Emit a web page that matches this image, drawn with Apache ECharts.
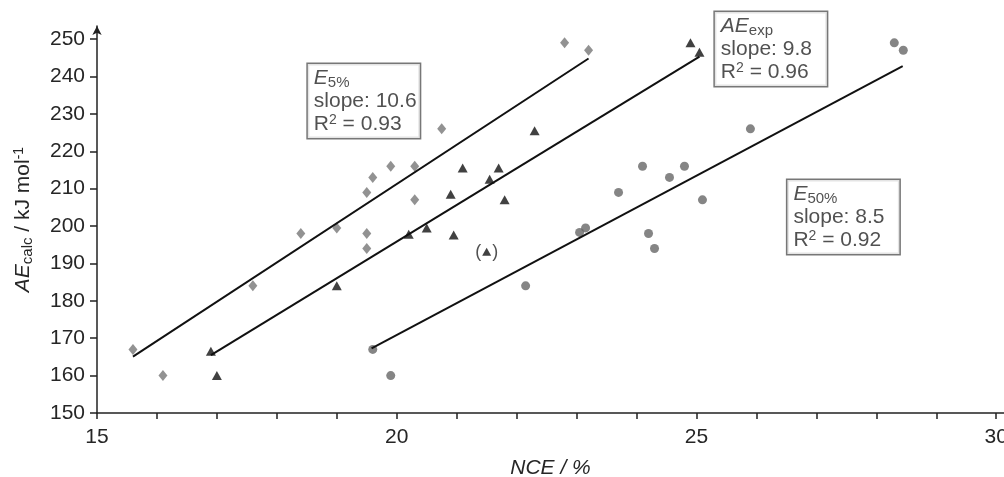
<!DOCTYPE html>
<html>
<head>
<meta charset="utf-8">
<script src="https://cdn.jsdelivr.net/npm/echarts@6/dist/echarts.min.js"></script>
<style>
  html, body { margin: 0; padding: 0; background: #fff; width: 100%; height: 100%; overflow: hidden; }
  #chart { width: 1004px; height: 477px; }
</style>
</head>
<body>
<div id="chart"></div>
<script>
// ---- data ----
// E5% (grey diamonds): [NCE %, AE_calc kJ/mol]
const e5Points = [
  [15.6, 167], [16.1, 160], [17.6, 184], [18.4, 198], [19.0, 199.5],
  [19.5, 198], [19.5, 194], [19.5, 209], [19.6, 213], [19.9, 216],
  [20.3, 216], [20.3, 207], [20.75, 226], [22.8, 249], [23.2, 247]
];
// AE_exp (black triangles)
const expPoints = [
  [16.9, 166.5], [17.0, 160], [19.0, 184], [20.2, 197.8], [20.5, 199.5],
  [20.95, 197.6], [20.9, 208.5], [21.1, 215.5], [21.55, 212.5], [21.7, 215.5],
  [21.8, 207], [22.3, 225.5], [24.9, 249], [25.05, 246.5]
];
// bracketed (excluded) AE_exp point
const expExcluded = [[21.5, 193.1]];
// E50% (grey circles)
const e50Points = [
  [19.6, 167], [19.9, 160], [22.15, 184], [23.05, 198.3], [23.15, 199.5],
  [23.7, 209], [24.1, 216], [24.2, 198], [24.3, 194], [24.55, 213],
  [24.8, 216], [25.1, 207], [25.9, 226], [28.3, 249], [28.45, 247]
];
// regression line end points
const e5Fit  = [[15.6, 165.1], [23.2, 244.8]];
const expFit = [[16.9, 165.5], [25.05, 245.3]];
const e50Fit = [[19.58, 167.3], [28.44, 242.8]];
// annotation boxes (top-left corner in data coordinates)
const annotations = [
  { pos: [18.5, 243.6], sym: '{i|E}{s|5%}', slope: '10.6', r2: '0.93' },
  { pos: [25.29, 257.5], sym: '{i|AE}{s|exp}', slope: '9.8', r2: '0.96' },
  { pos: [26.5, 212.6], sym: '{i|E}{s|50%}', slope: '8.5', r2: '0.92' }
];
// axes
const xTicks = [15,16,17,18,19,20,21,22,23,24,25,26,27,28,29,30];
const xLabels = [15, 20, 25, 30];
const yTicks = [150,160,170,180,190,200,210,220,230,240,250];

const FONT = 'Liberation Sans, Arial, sans-serif';
const FS = 21;
const TXT = '#262626';
const richText = {
  i: { fontStyle: 'italic', fontSize: FS, lineHeight: 23, fontFamily: FONT, color: TXT },
  n: { fontSize: FS, lineHeight: 23, fontFamily: FONT, color: TXT },
  s: { fontSize: 15, lineHeight: 10, verticalAlign: 'bottom', fontFamily: FONT, color: TXT },
  u: { fontSize: 14, lineHeight: 12, verticalAlign: 'top', fontFamily: FONT, color: TXT }
};

const chart = echarts.init(document.getElementById('chart'), null, { renderer: 'canvas' });

const option = {
  animation: false,
  backgroundColor: '#fff',
  grid: { left: 97, right: 0, top: 26, bottom: 64, containLabel: false, outerBoundsMode: 'none' },
  xAxis: {
    type: 'value',
    min: 15, max: 30.13,
    name: '{i|NCE / %}',
    nameLocation: 'middle',
    nameGap: 44,
    nameTextStyle: { rich: richText },
    axisLine: { show: true, onZero: false, lineStyle: { color: '#222', width: 1.5 } },
    axisTick: { show: true, customValues: xTicks, length: 6, inside: false, lineStyle: { color: '#222', width: 1.5 } },
    axisLabel: { customValues: xLabels, margin: 14, fontSize: FS, fontFamily: FONT, color: TXT },
    splitLine: { show: false }
  },
  yAxis: {
    type: 'value',
    min: 150, max: 253.5,
    name: '{i|AE}{s|calc}{n| / kJ mol}{u|-1}',
    nameLocation: 'middle',
    nameGap: 62,
    nameTextStyle: { rich: richText },
    axisLine: { show: true, onZero: false, symbol: ['none', 'arrow'], symbolSize: [7, 9], symbolOffset: [0, 0], lineStyle: { color: '#222', width: 1.5 } },
    axisTick: { show: true, customValues: yTicks, length: 7, inside: false, lineStyle: { color: '#222', width: 1.5 } },
    axisLabel: { customValues: yTicks, margin: 12, fontSize: FS, fontFamily: FONT, color: TXT },
    splitLine: { show: false }
  },
  series: [
    { type: 'line', data: e5Fit, showSymbol: false, symbol: 'none', lineStyle: { color: '#111', width: 2 }, z: 3 },
    { type: 'line', data: expFit, showSymbol: false, symbol: 'none', lineStyle: { color: '#111', width: 2 }, z: 3 },
    { type: 'line', data: e50Fit, showSymbol: false, symbol: 'none', lineStyle: { color: '#111', width: 2 }, z: 3 },
    { type: 'scatter', data: e5Points, symbol: 'diamond', symbolSize: [9, 11], itemStyle: { color: '#777' }, z: 2 },
    { type: 'scatter', data: expPoints, symbol: 'triangle', symbolSize: [10, 9], itemStyle: { color: '#111' }, z: 2 },
    { type: 'scatter', data: e50Points, symbol: 'circle', symbolSize: 9, itemStyle: { color: '#666' }, z: 2 },
    {
      type: 'scatter', data: expExcluded, symbol: 'triangle', symbolSize: [9, 8], itemStyle: { color: '#111' }, z: 2,
      label: {
        show: true, position: 'inside',
        formatter: '{p|(}{g|}{p|)}',
        rich: {
          p: { fontSize: 18, fontFamily: FONT, color: TXT },
          g: { width: 11 }
        }
      }
    },
    {
      type: 'scatter', clip: false, z: 5,
      data: annotations.map(a => ({ value: a.pos, a })),
      symbolSize: 0.1, itemStyle: { color: 'rgba(0,0,0,0)' },
      label: {
        show: true, position: 'inside', align: 'left', verticalAlign: 'top',
        offset: [1, 1],
        backgroundColor: '#fff', borderColor: '#555', borderWidth: 1.5,
        padding: [3, 5, 2, 6], width: 101,
        formatter: p => p.data.a.sym + '\n{n|slope: ' + p.data.a.slope + '}\n{n|R}{u|2}{n| = ' + p.data.a.r2 + '}',
        rich: richText
      }
    }
  ]
};
chart.setOption(option);
</script>
</body>
</html>
